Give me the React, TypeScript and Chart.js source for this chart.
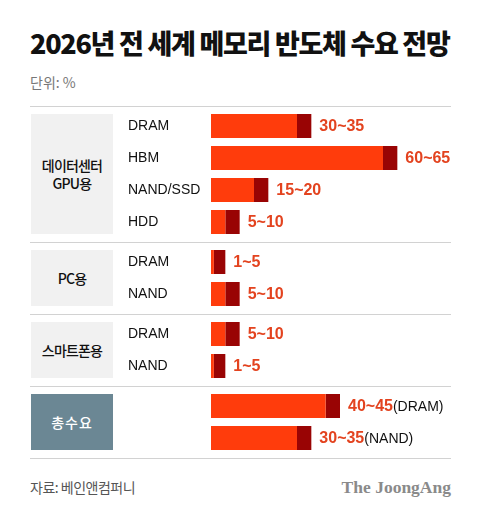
import React, { useEffect, useRef } from 'react';
import { Chart, registerables } from 'chart.js';
Chart.register(...registerables);

const LATIN = "'Liberation Sans', 'Noto Sans CJK KR', sans-serif";
const KFONT = "'Noto Sans CJK KR', 'Liberation Sans', sans-serif";

// ---- data ----
const title = '2026년 전 세계 메모리 반도체 수요 전망';
const unitText = '단위: %';
const sourceText = '자료: 베인앤컴퍼니';
const brandText = 'The JoongAng';

const groupNames = ['데이터센터\nGPU용', 'PC용', '스마트폰용', '총수요'];

const gpuRows = ['DRAM', 'HBM', 'NAND/SSD', 'HDD'];
const gpuLow = [30, 60, 15, 5];
const gpuHigh = [35, 65, 20, 10];

const pcRows = ['DRAM', 'NAND'];
const pcLow = [1, 5];
const pcHigh = [5, 10];

const phoneRows = ['DRAM', 'NAND'];
const phoneLow = [5, 1];
const phoneHigh = [10, 5];

const totalRows = ['DRAM', 'NAND'];
const totalLow = [40, 30];
const totalHigh = [45, 35];

const X_MAX = 90;
const LOW_COLOR = '#ff3c0c';
const HIGH_COLOR = '#990404';
const LABEL_COLOR = '#e3431f';
const ROW_H = 32;
const GROUP_GAP = 8;
const FIRST_TOP = 110;

type GroupProps = {
  rows: string[];
  low: number[];
  high: number[];
  showRows: boolean;
  suffix: boolean;
  top: number;
};

function GroupChart({ rows, low, high, showRows, suffix, top }: GroupProps) {
  const ref = useRef<HTMLCanvasElement | null>(null);
  useEffect(() => {
    const labelPlugin = {
      id: 'rangeLabels',
      afterDatasetsDraw(chart: any) {
        const ctx = chart.ctx;
        const meta = chart.getDatasetMeta(1);
        ctx.save();
        ctx.textBaseline = 'middle';
        ctx.textAlign = 'left';
        meta.data.forEach((bar: any, i: number) => {
          const x = bar.x + 8;
          const y = bar.y + 1;
          const txt = `${low[i]}~${high[i]}`;
          ctx.font = `bold 16px ${LATIN}`;
          ctx.fillStyle = LABEL_COLOR;
          ctx.fillText(txt, x, y);
          if (suffix) {
            const w = ctx.measureText(txt).width;
            ctx.font = `14px ${LATIN}`;
            ctx.fillStyle = '#111';
            ctx.fillText(`(${rows[i]})`, x + w, y);
          }
        });
        ctx.restore();
      },
    };
    const chart = new Chart(ref.current as HTMLCanvasElement, {
      type: 'bar',
      data: {
        labels: rows,
        datasets: [
          { data: low, backgroundColor: LOW_COLOR, borderWidth: 0 },
          { data: high.map((h, i) => h - low[i]), backgroundColor: HIGH_COLOR, borderWidth: 0 },
        ],
      },
      options: {
        indexAxis: 'y',
        responsive: false,
        animation: false,
        layout: { padding: 0 },
        plugins: { legend: { display: false }, tooltip: { enabled: false } },
        datasets: { bar: { categoryPercentage: 0.75, barPercentage: 1 } },
        scales: {
          x: { display: false, stacked: true, min: 0, max: X_MAX },
          y: {
            stacked: true,
            grid: { display: false },
            border: { display: false },
            ticks: {
              crossAlign: 'far',
              padding: 0,
              color: '#111',
              font: { size: 14, family: LATIN },
              callback: (_v: any, i: number) => (showRows ? rows[i] : ''),
            },
            afterFit: (s: any) => {
              s.width = 83;
              s.paddingTop = 0;
              s.paddingBottom = 0;
            },
          },
        },
      } as any,
      plugins: [labelPlugin],
    });
    return () => chart.destroy();
  }, []);
  return (
    <canvas
      ref={ref}
      width={341}
      height={rows.length * ROW_H}
      style={{ position: 'absolute', left: 128, top, width: 341, height: rows.length * ROW_H }}
    />
  );
}

const groups = [
  { rows: gpuRows, low: gpuLow, high: gpuHigh, showRows: true, suffix: false, dark: false },
  { rows: pcRows, low: pcLow, high: pcHigh, showRows: true, suffix: false, dark: false },
  { rows: phoneRows, low: phoneLow, high: phoneHigh, showRows: true, suffix: false, dark: false },
  { rows: totalRows, low: totalLow, high: totalHigh, showRows: false, suffix: true, dark: true },
];

export default function App() {
  let top = FIRST_TOP;
  const items: any[] = [];
  groups.forEach((g, gi) => {
    const h = g.rows.length * ROW_H;
    items.push(
      <div
        key={'sep' + gi}
        style={{ position: 'absolute', left: 30, width: 421, top: top - 4, height: 1, background: '#d2d2d2' }}
      />
    );
    items.push(
      <div
        key={'box' + gi}
        style={{
          position: 'absolute',
          left: 31,
          width: 82,
          top: top + 4,
          height: h - 8,
          background: g.dark ? '#6b8794' : '#f1f1f1',
          color: g.dark ? '#fff' : '#111',
          display: 'flex',
          alignItems: 'center',
          justifyContent: 'center',
          textAlign: 'center',
          whiteSpace: 'pre-line',
          fontFamily: KFONT,
          fontSize: 14,
          lineHeight: '18px',
          fontWeight: 500,
          letterSpacing: g.dark ? 1 : -0.8,
        }}
      >
        {groupNames[gi]}
      </div>
    );
    items.push(<GroupChart key={'c' + gi} {...g} top={top} />);
    top += h + GROUP_GAP;
  });
  items.push(
    <div
      key="sepEnd"
      style={{ position: 'absolute', left: 30, width: 421, top: top - 4, height: 1, background: '#d2d2d2' }}
    />
  );

  return (
    <div
      style={{
        position: 'absolute',
        left: 0,
        top: 0,
        width: 480,
        height: 513,
        background: '#fff',
        overflow: 'hidden',
        fontFamily: KFONT,
      }}
    >
      <div
        style={{
          position: 'absolute',
          left: 30,
          top: 29,
          fontSize: 27,
          lineHeight: '28px',
          fontWeight: 900,
          letterSpacing: -1.3,
          color: '#111',
          whiteSpace: 'nowrap',
        }}
      >
        {title}
      </div>
      <div
        style={{ position: 'absolute', left: 30, top: 75, fontSize: 14, lineHeight: '14px', color: '#777' }}
      >
        {unitText}
      </div>
      <div
        style={{ position: 'absolute', left: 30, width: 421, top: 106, height: 1, background: '#d2d2d2' }}
      />
      {items}
      <div
        style={{
          position: 'absolute',
          left: 30,
          top: 480,
          fontSize: 14,
          lineHeight: '14px',
          color: '#555',
          letterSpacing: -0.5,
        }}
      >
        {sourceText}
      </div>
      <div
        style={{
          position: 'absolute',
          right: 29,
          top: 478,
          fontSize: 17.5,
          lineHeight: '18px',
          color: '#8a8a8a',
          fontWeight: 700,
          fontFamily: "'Liberation Serif', 'DejaVu Serif', serif",
        }}
      >
        {brandText}
      </div>
    </div>
  );
}
